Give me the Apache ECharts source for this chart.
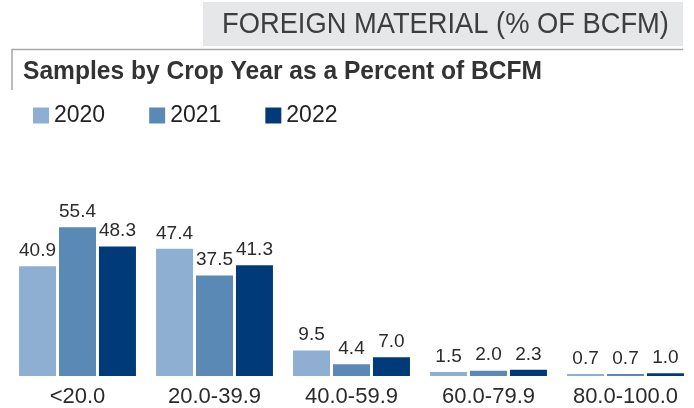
<!DOCTYPE html>
<html>
<head>
<meta charset="utf-8">
<script src="https://cdn.jsdelivr.net/npm/echarts@6/dist/echarts.min.js"></script>
<style>
    html, body { margin: 0; padding: 0; background: #fff; }
    #chart { width: 694px; height: 408px; }
</style>
</head>
<body>
<div id="chart"></div>
<script>
// Data
const categories = ['<20.0', '20.0-39.9', '40.0-59.9', '60.0-79.9', '80.0-100.0'];
const years = ['2020', '2021', '2022'];
const values2020 = [40.9, 47.4, 9.5, 1.5, 0.7];
const values2021 = [55.4, 37.5, 4.4, 2.0, 0.7];
const values2022 = [48.3, 41.3, 7.0, 2.3, 1.0];
const yearColors = ['#8eafd2', '#5a89b5', '#003a78'];

// no narrow font installed, so headings get squeezed with scaleX
const FONT = '"Liberation Sans", Arial, sans-serif';

function barSeries(name, data, color) {
    return {
        name: name,
        type: 'bar',
        data: data,
        barWidth: 37,
        barGap: '8%',
        itemStyle: { color: color },
        label: {
            show: true,
            position: 'top',
            distance: 6,
            formatter: p => p.value.toFixed(1),
            fontFamily: FONT,
            fontSize: 19,
            color: '#2b2b2b'
        }
    };
}

const chart = echarts.init(document.getElementById('chart'));

chart.setOption({
    animation: false,
    color: yearColors,
    grid: { left: 9, top: 215, width: 688, height: 161 },
    legend: {
        data: years,
        left: 28,
        top: 99,
        icon: 'rect',
        itemWidth: 16,
        itemHeight: 16,
        itemGap: 44,
        textStyle: { fontFamily: FONT, fontSize: 23, color: '#222' }
    },
    xAxis: {
        type: 'category',
        data: categories,
        axisLine: { show: false },
        axisTick: { show: false },
        axisLabel: { fontFamily: FONT, fontSize: 22, color: '#2b2b2b', margin: 10 }
    },
    yAxis: {
        type: 'value',
        min: 0,
        max: 60,
        show: false,
        splitLine: { show: false }
    },
    graphic: [
        {
            type: 'rect',
            shape: { x: 203, y: 2, width: 480, height: 44 },
            style: { fill: '#e6e7e8' }
        },
        {
            type: 'text',
            x: 222,
            y: 25,
            scaleX: 0.91,
            style: {
                text: 'FOREIGN MATERIAL (% OF BCFM)',
                font: '30px ' + FONT,
                fill: '#3d3d3d',
                verticalAlign: 'middle'
            }
        },
        {
            type: 'polyline',
            shape: { points: [[12, 90], [12, 49.5], [683, 49.5]] },
            style: { stroke: '#a6a6a6', lineWidth: 1.5, fill: null }
        },
        {
            type: 'text',
            x: 23,
            y: 72,
            scaleX: 0.945,
            style: {
                text: 'Samples by Crop Year as a Percent of BCFM',
                font: 'bold 26px ' + FONT,
                fill: '#333',
                verticalAlign: 'middle'
            }
        }
    ],
    series: [
        barSeries(years[0], values2020, yearColors[0]),
        barSeries(years[1], values2021, yearColors[1]),
        barSeries(years[2], values2022, yearColors[2])
    ]
});
</script>
</body>
</html>
